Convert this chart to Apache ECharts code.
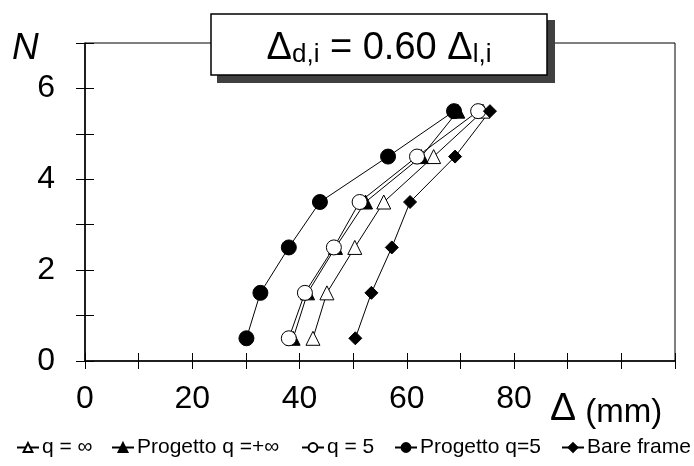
<!DOCTYPE html>
<html>
<head>
<meta charset="utf-8">
<script src="https://cdn.jsdelivr.net/npm/echarts@6/dist/echarts.min.js"></script>
<style>
html,body{margin:0;padding:0;background:#fff;}
#c{width:694px;height:466px;}
</style>
</head>
<body>
<div id="c"></div>
<script>
// ---- data ----
var seriesNames = ['q = ∞', 'Progetto q =+∞', 'q = 5', 'Progetto q=5', 'Bare frame'];
var storeys = [0.5, 1.5, 2.5, 3.5, 4.5, 5.5];
var qInf    = [42.5, 45.1, 50.3, 55.7, 65.0, 74.2];
var progInf = [38.8, 41.5, 46.7, 52.3, 62.7, 69.5];
var q5      = [38.0, 41.0, 46.4, 51.2, 61.9, 73.3];
var prog5   = [30.1, 32.7, 38.0, 43.8, 56.5, 68.8];
var bare    = [50.4, 53.4, 57.2, 60.6, 69.0, 75.5];
var xTickLabels = [0, 20, 40, 60, 80];
var yTickLabels = [0, 2, 4, 6];

var FONT = '"Liberation Sans", Arial, sans-serif';

function pairs(xs) { return xs.map(function (v, i) { return [v, storeys[i]]; }); }

function mkSeries(name, xs, symbol, size, fill) {
  return {
    name: name, type: 'line', data: pairs(xs),
    symbol: symbol, symbolSize: size,
    lineStyle: { color: '#000', width: 1 },
    itemStyle: { color: fill, borderColor: '#000', borderWidth: 1 },
    emphasis: { disabled: true },
    animation: false
  };
}

var series = [
  mkSeries(seriesNames[0], qInf, 'triangle', 14, '#fff'),
  mkSeries(seriesNames[1], progInf, 'triangle', 14, '#000'),
  mkSeries(seriesNames[2], q5, 'circle', 15, '#fff'),
  mkSeries(seriesNames[3], prog5, 'circle', 15, '#000'),
  mkSeries(seriesNames[4], bare, 'diamond', 13, '#000')
];

var legendLefts = [11, 106, 296, 389, 556];
var legends = seriesNames.map(function (n, i) {
  return {
    data: [n], left: legendLefts[i], top: 432,
    itemWidth: 22, itemHeight: 11, itemGap: 0,
    textStyle: { fontSize: 21, color: '#000', fontFamily: FONT, padding: [0, 0, 0, -2] },
    selectedMode: false
  };
});

function xAx(outside) {
  return {
    type: 'value', min: 0, max: 110, interval: 10, position: 'bottom', gridIndex: 0,
    axisLine: { show: outside, onZero: false, lineStyle: { color: '#000', width: 1.5 } },
    axisTick: { show: true, inside: !outside, length: 8, lineStyle: { color: '#000', width: 1 } },
    axisLabel: {
      show: outside, margin: 22, fontSize: 32, color: '#000', fontFamily: FONT,
      formatter: function (v) { return xTickLabels.indexOf(v) >= 0 ? String(v) : ''; }
    },
    splitLine: { show: false }
  };
}
function yAx(outside) {
  return {
    type: 'value', min: 0, max: 7, interval: 1, position: 'left', gridIndex: 0,
    axisLine: { show: outside, onZero: false, lineStyle: { color: '#000', width: 1.5 } },
    axisTick: { show: true, inside: !outside, length: 9, lineStyle: { color: '#000', width: 1 } },
    axisLabel: {
      show: outside, margin: 30, fontSize: 32, color: '#000', fontFamily: FONT,
      formatter: function (v) { return yTickLabels.indexOf(v) >= 0 ? String(v) : ''; }
    },
    splitLine: { show: false }
  };
}

var option = {
  backgroundColor: '#fff',
  animation: false,
  grid: { left: 85, right: 19, top: 43, bottom: 105, show: true, borderColor: '#000', borderWidth: 1, backgroundColor: 'transparent' },
  xAxis: [xAx(true), xAx(false)],
  yAxis: [yAx(true), yAx(false)],
  legend: legends,
  series: series,
  graphic: [
    { type: 'rect', z: 100, shape: { x: 217, y: 20, width: 338, height: 63 }, style: { fill: '#404040' } },
    { type: 'rect', z: 101, shape: { x: 211, y: 14, width: 336, height: 61 }, style: { fill: '#fff', stroke: '#000', lineWidth: 1.5 } },
    { type: 'text', z: 102, x: 379, y: 46,
      style: {
        text: '{a|Δ}{s|d,i}{a| = 0.60 Δ}{s|l,i}',
        align: 'center', verticalAlign: 'middle',
        rich: {
          a: { fontSize: 38, fontFamily: FONT, fill: '#000', verticalAlign: 'bottom', lineHeight: 44 },
          s: { fontSize: 26, fontFamily: FONT, fill: '#000', verticalAlign: 'bottom', lineHeight: 20 }
        }
      } },
    { type: 'text', z: 102, x: 12, y: 30,
      style: { text: 'N', fontSize: 37, fontStyle: 'italic', fontFamily: FONT, fill: '#000' } },
    { type: 'text', z: 102, x: 550, y: 429,
      style: {
        text: '{d|Δ}{m| (mm)}', verticalAlign: 'bottom',
        rich: {
          d: { fontSize: 39, fontFamily: FONT, fill: '#000', verticalAlign: 'bottom', lineHeight: 40 },
          m: { fontSize: 33, fontFamily: FONT, fill: '#000', verticalAlign: 'bottom', lineHeight: 38 }
        }
      } }
  ]
};

var chart = echarts.init(document.getElementById('c'), null, { renderer: 'canvas' });
chart.setOption(option);
</script>
</body>
</html>
